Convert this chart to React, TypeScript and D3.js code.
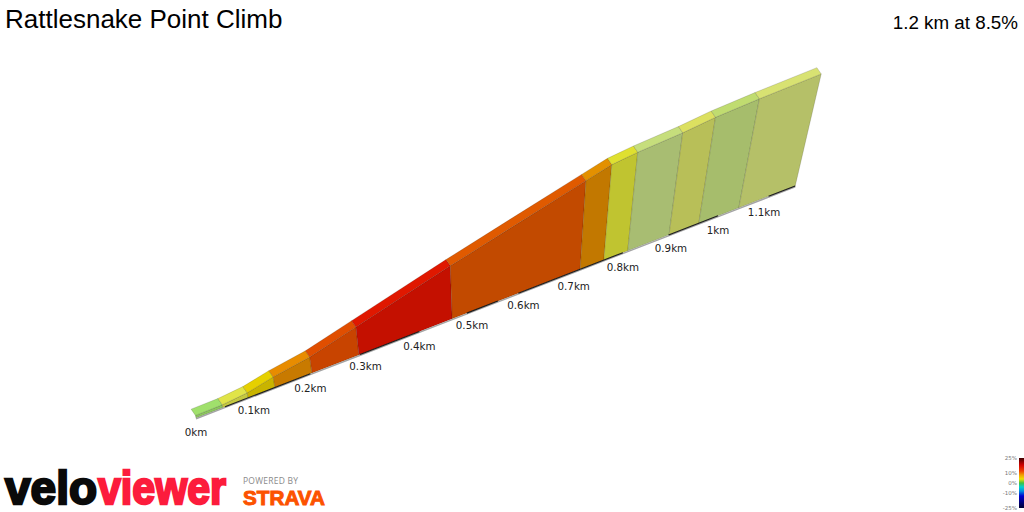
import * as d3 from 'd3';

// segment edges along the climb
const edgeKm = [0, 0.046, 0.09, 0.137, 0.203, 0.288, 0.462, 0.713, 0.761, 0.81, 0.896, 0.959, 1.045, 1.169];
const edgeElevation = [2, 2.2, 3.9, 8.3, 12.8, 22.6, 43.7, 75.2, 81.5, 84.6, 88.4, 92.5, 96, 100];
const topColors = ['#a0e06c', '#e0e448', '#e6d000', '#e88c00', '#e04e00', '#e01800', '#e05a00', '#e39000', '#dfe030', '#c6de7c', '#dce060', '#c0dc70', '#d8e272'];
const faceColors = ['#8cc45e', '#c4c840', '#c9b400', '#c87a00', '#c84400', '#c41000', '#c24a00', '#c27800', '#c0c430', '#a8bd72', '#b8bf58', '#a6bd6c', '#b5c068'];

// stretches of the road line that show dark instead of grey
const darkFrom = [0.05, 0.29, 0.49, 0.59, 0.713, 0.895, 1.11];
const darkTo = [0.2, 0.4, 0.55, 0.713, 0.8, 1.0, 1.169];

const tickKm = [0, 0.1, 0.2, 0.3, 0.4, 0.5, 0.6, 0.7, 0.8, 0.9, 1, 1.1];
const tickLabels = ['0km', '0.1km', '0.2km', '0.3km', '0.4km', '0.5km', '0.6km', '0.7km', '0.8km', '0.9km', '1km', '1.1km'];

const legendGrades = [25, 18, 12, 8, 4, 0, -4, -8, -13, -25];
const legendColors = ['#400000', '#d00000', '#f04000', '#f0a000', '#f0e000', '#40c040', '#00d0d0', '#0090e0', '#0000d0', '#000030'];
const legendTicks = [25, 10, 0, -10, -25];

const perspective = 0.122;
const foreshorten = (km: number) => km / (1 + perspective * km);

const baseX = d3.scaleLinear().domain([0, 1]).range([196, 781.7]);
const baseY = d3.scaleLinear().domain([0, 1]).range([418, 191.2]);
const wall = d3.scaleLinear().domain([0, 100]).range([0, 128]);
const legendY = d3.scaleLinear().domain([25, -25]).range([458, 508]);

const groundPoint = (km: number): [number, number] => [baseX(foreshorten(km)), baseY(foreshorten(km))];
const topPoint = (km: number, elevation: number): [number, number] => {
    const [x, y] = groundPoint(km);
    const h = wall(elevation) / (1 + perspective * km);
    return [x + (h * (x - 497)) / 1285, y - h];
};
const backPoint = (p: [number, number]): [number, number] => [p[0] - 4.3, p[1] - 6.3];

const outline = d3.line<[number, number]>();
const closed = (pts: [number, number][]) => outline(pts) + 'Z';

const App = () => {
    const segments = d3.range(edgeKm.length - 1);
    const legendStop = d3.scaleLinear().domain([25, -25]).range([0, 100]);

    return (
        <svg width={1024} height={512} style={{ position: 'absolute', left: 0, top: 0, display: 'block' }}>
            <defs>
                <linearGradient id="gradeScale" x1="0" y1="0" x2="0" y2="1">
                    {legendGrades.map((g, i) => (
                        <stop key={g} offset={`${legendStop(g)}%`} stopColor={legendColors[i]} />
                    ))}
                </linearGradient>
            </defs>

            <text x={5} y={28} fontFamily="Liberation Sans" fontSize={26} fill="#000">Rattlesnake Point Climb</text>
            <text x={1018} y={29} textAnchor="end" fontFamily="Liberation Sans" fontSize={18.8} fill="#000">1.2 km at 8.5%</text>

            {segments.map(i => {
                const g0 = groundPoint(edgeKm[i]);
                const g1 = groundPoint(edgeKm[i + 1]);
                const t0 = topPoint(edgeKm[i], edgeElevation[i]);
                const t1 = topPoint(edgeKm[i + 1], edgeElevation[i + 1]);
                return (
                    <g key={i} stroke="#000" strokeOpacity={0.14} strokeWidth={1}>
                        <path d={closed([g0, g1, t1, t0])} fill={faceColors[i]} />
                        <path d={closed([t0, t1, backPoint(t1), backPoint(t0)])} fill={topColors[i]} />
                    </g>
                );
            })}

            {/* road line under the wall */}
            <path d={outline(edgeKm.map(groundPoint)) || ''} transform="translate(0,0.8)" fill="none" stroke="#a4a4a4" strokeWidth={1.5} />
            {darkFrom.map((from, i) => (
                <path key={from} d={outline([groundPoint(from), groundPoint(darkTo[i])]) || ''} fill="none" stroke="#1c1c1c" strokeWidth={1.1} />
            ))}

            {tickKm.map((km, i) => {
                const [x, y] = groundPoint(km);
                return (
                    <text key={km} x={x} y={y + 18} textAnchor="middle" fontFamily="DejaVu Sans" fontSize={10.3} fill="#222">
                        {tickLabels[i]}
                    </text>
                );
            })}

            {/* logos */}
            <text x={5} y={504} fontFamily="Liberation Sans" fontWeight="bold" fontSize={47} fill="#0a0a0a" stroke="#0a0a0a" strokeWidth={2.4} textLength={92} lengthAdjust="spacingAndGlyphs">velo</text>
            <text x={98} y={504} fontFamily="Liberation Sans" fontWeight="bold" fontSize={47} fill="#fc1c3c" stroke="#fc1c3c" strokeWidth={2.4} textLength={128} lengthAdjust="spacingAndGlyphs">viewer</text>
            <text x={243} y={484} fontFamily="Open Sans" fontSize={8.5} fill="#8a8a8a" textLength={55}>POWERED BY</text>
            <text x={243} y={505} fontFamily="Liberation Sans" fontWeight="bold" fontSize={21} fill="#fc5200" stroke="#fc5200" strokeWidth={1} textLength={82} lengthAdjust="spacingAndGlyphs">STRAVA</text>

            {/* grade legend */}
            <rect x={1019} y={legendY(25)} width={5} height={legendY(-25) - legendY(25)} fill="url(#gradeScale)" />
            {legendTicks.map(t => (
                <text key={t} x={1017} y={legendY(t) + 2} textAnchor="end" fontFamily="DejaVu Sans" fontSize={5.5} fill="#777">{`${t}%`}</text>
            ))}
        </svg>
    );
};

export default App;
